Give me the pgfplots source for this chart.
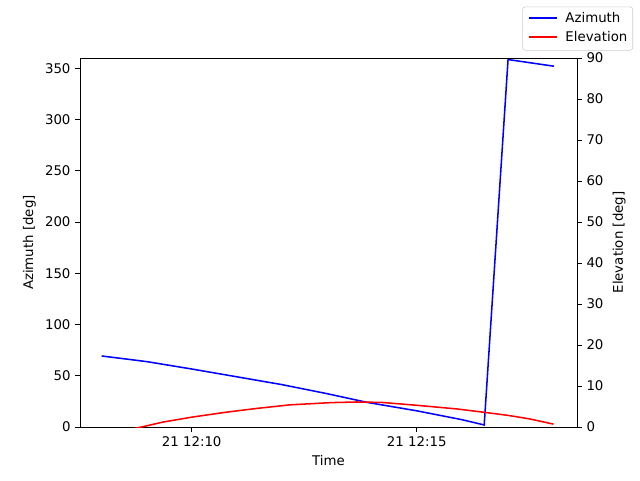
\documentclass[border=0pt]{standalone}
\usepackage{fontspec}
\setmainfont{DejaVu Sans}
\usepackage{pgfplots}
\pgfplotsset{compat=1.18}
\begin{document}
\fontsize{10pt}{12pt}\selectfont
\begin{tikzpicture}
\pgfplotsset{
  every axis/.append style={
    width=372.75pt, height=276.75pt, scale only axis,
    xmin=7.518, xmax=18.562,
    tick align=outside, major tick length=3.6pt,
    tick style={black, line width=0.6pt},
    axis line style={line width=0.6pt},
    /pgf/number format/assume math mode=true,
    tick label style={font=\fontsize{10pt}{12pt}\selectfont},
    label style={font=\fontsize{10pt}{12pt}\selectfont},
  }
}
\begin{axis}[
  name=ax,
  ytick pos=left, xtick pos=bottom,
  ymin=0, ymax=360,
  ytick={0,50,...,350},
  xtick={10,15}, xticklabels={21 12:10, 21 12:15},
  xlabel={Time}, ylabel={Azimuth [deg]},
  clip=true,
]
\addplot[blue, line width=1.15pt] coordinates {
(8.0,69.3) (9.0,63.8) (10.0,56.6) (11.0,49.0) (12.0,41.4) (13.0,32.6)
(13.89,24.1) (15.0,15.8) (16.0,7.2) (16.5,2.0) (17.03,358.5) (18.05,352.0)
};
\end{axis}
\begin{axis}[
  axis y line*=right, axis x line=none,
  ymin=0, ymax=90,
  ytick={0,10,...,90},
  ylabel={Elevation [deg]},
  clip=true,
]
\addplot[red, line width=1.15pt] coordinates {
(8.0,-2.0) (8.887,0.0) (9.36,1.2) (10.0,2.4) (10.76,3.6) (11.42,4.5) (12.18,5.4)
(13.1,5.95) (13.66,6.1) (14.22,6.0) (15.0,5.3) (15.9,4.4) (16.56,3.5)
(17.02,2.85) (17.5,2.0) (18.04,0.7)
};
\end{axis}
\node[anchor=north east, draw=black!20, rounded corners=2pt, fill=white,
  inner xsep=4pt, inner ysep=3pt, font=\fontsize{10pt}{12pt}\selectfont]
  at ([shift={(42pt,38.5pt)}]ax.north east)
  {\begin{tabular}{@{}l@{\hspace{6pt}}l@{}}
   \tikz[baseline=-0.6ex]\draw[blue, line width=1.15pt] (0pt,0pt) -- (21pt,0pt); & Azimuth\\[2.5pt]
   \tikz[baseline=-0.6ex]\draw[red, line width=1.15pt] (0pt,0pt) -- (21pt,0pt); & Elevation
   \end{tabular}};
\pgfresetboundingbox
\path[use as bounding box] ([shift={(-60pt,-39.75pt)}]ax.south west) rectangle ([shift={(420pt,320.25pt)}]ax.south west);
\end{tikzpicture}
\end{document}
